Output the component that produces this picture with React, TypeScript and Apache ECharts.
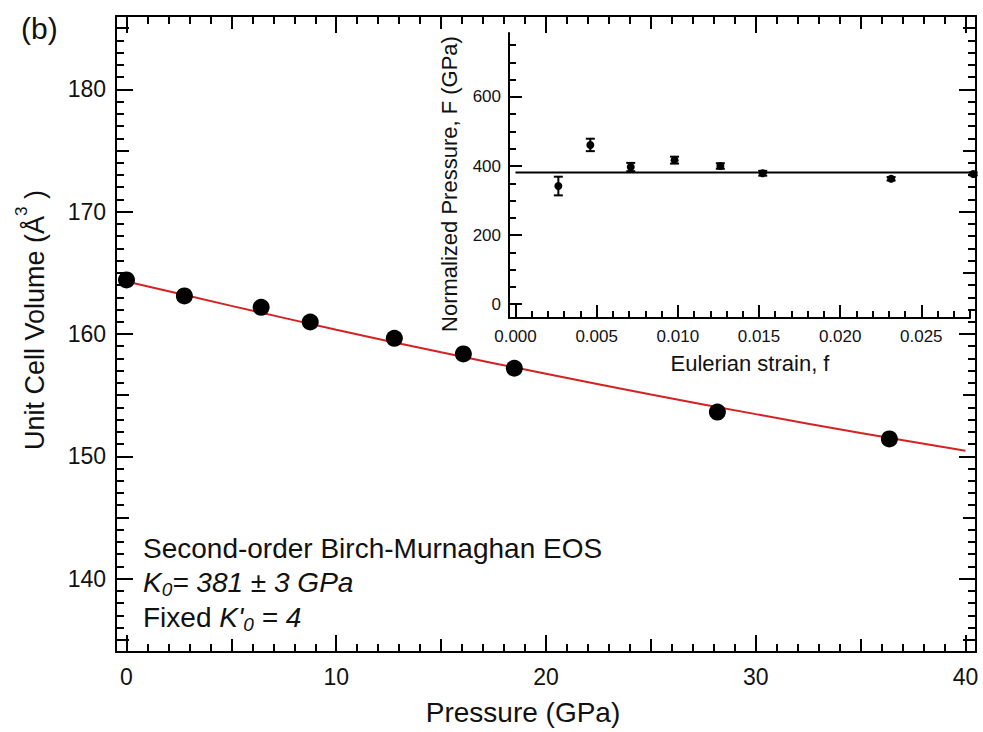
import React, { useEffect, useRef } from 'react';
import * as echarts from 'echarts';

// ---- Main panel data: unit cell volume vs pressure ----
const pressure = [0, 2.76, 6.42, 8.76, 12.77, 16.06, 18.49, 28.17, 36.37];
const volume = [164.42, 163.11, 162.18, 160.98, 159.65, 158.37, 157.2, 153.62, 151.42];
// Second-order Birch-Murnaghan fit curve
const fitPressure = [0, 5, 10, 15, 20, 25, 30, 35, 40];
const fitVolume = [164.3, 162.3, 160.35, 158.5, 156.75, 155.05, 153.45, 151.9, 150.45];

// ---- Inset data: normalized pressure vs Eulerian strain ----
const strain = [0.00264, 0.00461, 0.0071, 0.0098, 0.01262, 0.01523, 0.02314, 0.0282];
const normPressure = [342, 461, 397, 417, 400, 379, 363, 377];
const normPressureErr = [27, 18, 12, 10, 8, 7, 5, 4];
const K0Line = [381, 381];
const K0LineStrain = [0, 0.0283];

// ---- Tick values ----
const mainXMajor = [0, 10, 20, 30, 40];
const mainXMid = [5, 15, 25, 35];
const mainYMajor = [140, 150, 160, 170, 180];
const mainYMid = [135, 145, 155, 165, 175, 185];
const insetXMajor = [0, 0.005, 0.01, 0.015, 0.02, 0.025];
const insetYMajor = [0, 200, 400, 600];

const FONT = '"Liberation Sans", Arial, sans-serif';
const INK = '#111';

const range = (a: number, b: number, step: number) => {
  const out: number[] = [];
  for (let v = a; v <= b + 1e-9; v += step) out.push(Math.round(v * 10000) / 10000);
  return out;
};
const mainXMinor = range(0, 40, 1).filter((v) => v % 5 !== 0);
const mainYMinor = range(135, 185, 1).filter((v) => v % 5 !== 0);
const insetXMinor = range(0.001, 0.028, 0.001).filter((v) => Math.round(v * 1000) % 5 !== 0);
const insetYMinor = range(50, 750, 50).filter((v) => v % 200 !== 0);

function tickAxis(
  gridIndex: number,
  position: string,
  min: number,
  max: number,
  ticks: number[],
  len: number,
  showLine: boolean,
  label?: any
) {
  return {
    type: 'value',
    gridIndex,
    position,
    min,
    max,
    axisLine: { show: showLine, onZero: false, lineStyle: { color: '#000', width: 2 } },
    axisTick: {
      show: true,
      inside: true,
      length: len,
      customValues: ticks,
      lineStyle: { color: '#000', width: 2 },
    },
    axisLabel: label ? label : { show: false },
    splitLine: { show: false },
    minorTick: { show: false },
  };
}

type Seg = { text: string; italic?: boolean; size: number; dy?: number };

function composeLine(segs: Seg[], x0: number, yc: number) {
  const ctx = document.createElement('canvas').getContext('2d') as CanvasRenderingContext2D;
  let x = x0;
  const out: any[] = [];
  segs.forEach((s) => {
    const font = `${s.italic ? 'italic ' : ''}${s.size}px ${FONT}`;
    ctx.font = font;
    const w = ctx.measureText(s.text).width;
    out.push({
      type: 'text',
      x,
      y: yc + (s.dy || 0),
      style: { text: s.text, font, fill: INK, align: 'left', verticalAlign: 'middle' },
    });
    x += w;
  });
  return out;
}

export default function App() {
  const ref = useRef<HTMLDivElement>(null);
  useEffect(() => {
    document.body.style.margin = '0';
    if (!ref.current) return;
    const chart = echarts.init(ref.current, undefined, { renderer: 'svg' });

    const mainXLabel = {
      show: true,
      customValues: mainXMajor,
      color: INK,
      fontSize: 23,
      fontFamily: FONT,
      margin: 13,
    };
    const mainYLabel = {
      show: true,
      customValues: mainYMajor,
      color: INK,
      fontSize: 23,
      fontFamily: FONT,
      margin: 10,
    };
    const insetXLabel = {
      show: true,
      customValues: insetXMajor,
      color: INK,
      fontSize: 17,
      fontFamily: FONT,
      margin: 10,
      formatter: (v: number) => v.toFixed(3),
    };
    const insetYLabel = {
      show: true,
      customValues: insetYMajor,
      color: INK,
      fontSize: 17,
      fontFamily: FONT,
      margin: 8,
    };

    const annotation = [
      ...composeLine([{ text: 'Second-order Birch-Murnaghan EOS', size: 28 }], 143, 548),
      ...composeLine(
        [
          { text: 'K', italic: true, size: 28 },
          { text: '0', italic: true, size: 19, dy: 7 },
          { text: '= 381 ± 3 GPa', italic: true, size: 28 },
        ],
        143,
        582
      ),
      ...composeLine(
        [
          { text: 'Fixed ', size: 28 },
          { text: "K'", italic: true, size: 28 },
          { text: '0', italic: true, size: 19, dy: 7 },
          { text: ' = 4', italic: true, size: 28 },
        ],
        143,
        617
      ),
    ];

    const option: any = {
      animation: false,
      backgroundColor: '#fff',
      grid: [
        { left: 116, top: 16, width: 860, height: 636, outerBoundsMode: 'none', containLabel: false },
        { left: 509, top: 33, width: 461, height: 285, outerBoundsMode: 'none', containLabel: false },
      ],
      xAxis: [
        tickAxis(0, 'bottom', -0.5, 40.5, mainXMajor, 17, true, mainXLabel),
        tickAxis(0, 'bottom', -0.5, 40.5, mainXMid, 13, false),
        tickAxis(0, 'bottom', -0.5, 40.5, mainXMinor, 8, false),
        tickAxis(0, 'top', -0.5, 40.5, mainXMajor, 17, true),
        tickAxis(0, 'top', -0.5, 40.5, mainXMid, 13, false),
        tickAxis(0, 'top', -0.5, 40.5, mainXMinor, 8, false),
        tickAxis(1, 'bottom', -0.0004, 0.028, insetXMajor, 13, true, insetXLabel),
        tickAxis(1, 'bottom', -0.0004, 0.028, insetXMinor, 7, false),
      ],
      yAxis: [
        tickAxis(0, 'left', 134, 186, mainYMajor, 17, true, mainYLabel),
        tickAxis(0, 'left', 134, 186, mainYMid, 13, false),
        tickAxis(0, 'left', 134, 186, mainYMinor, 8, false),
        tickAxis(0, 'right', 134, 186, mainYMajor, 17, true),
        tickAxis(0, 'right', 134, 186, mainYMid, 13, false),
        tickAxis(0, 'right', 134, 186, mainYMinor, 8, false),
        tickAxis(1, 'left', -40, 785, insetYMajor, 13, true, insetYLabel),
        tickAxis(1, 'left', -40, 785, insetYMinor, 7, false),
      ],
      series: [
        {
          type: 'line',
          xAxisIndex: 0,
          yAxisIndex: 0,
          data: fitPressure.map((p, i) => [p, fitVolume[i]]),
          showSymbol: false,
          smooth: 0.3,
          lineStyle: { color: '#d42222', width: 2 },
          z: 2,
        },
        {
          type: 'scatter',
          xAxisIndex: 0,
          yAxisIndex: 0,
          data: pressure.map((p, i) => [p, volume[i]]),
          symbol: 'circle',
          symbolSize: 17,
          itemStyle: { color: '#000', opacity: 1 },
          z: 3,
        },
        {
          type: 'line',
          xAxisIndex: 6,
          yAxisIndex: 6,
          data: K0LineStrain.map((s, i) => [s, K0Line[i]]),
          showSymbol: false,
          clip: false,
          lineStyle: { color: '#000', width: 2 },
          z: 2,
        },
        {
          type: 'custom',
          xAxisIndex: 6,
          yAxisIndex: 6,
          data: strain.map((s, i) => [s, normPressure[i], normPressureErr[i]]),
          encode: { x: 0, y: 1 },
          clip: false,
          renderItem: (params: any, api: any) => {
            const x = api.value(0);
            const y = api.value(1);
            const e = api.value(2);
            const top = api.coord([x, y + e]);
            const bot = api.coord([x, y - e]);
            const cw = 4.5;
            const st = { stroke: '#000', lineWidth: 2 };
            return {
              type: 'group',
              children: [
                { type: 'line', shape: { x1: top[0], y1: top[1], x2: bot[0], y2: bot[1] }, style: st },
                { type: 'line', shape: { x1: top[0] - cw, y1: top[1], x2: top[0] + cw, y2: top[1] }, style: st },
                { type: 'line', shape: { x1: bot[0] - cw, y1: bot[1], x2: bot[0] + cw, y2: bot[1] }, style: st },
              ],
            };
          },
          z: 3,
        },
        {
          type: 'scatter',
          xAxisIndex: 6,
          yAxisIndex: 6,
          data: strain.map((s, i) => [s, normPressure[i]]),
          symbol: 'circle',
          symbolSize: 8,
          clip: false,
          itemStyle: { color: '#000', opacity: 1 },
          z: 4,
        },
      ],
      graphic: [
        {
          type: 'text',
          x: 21,
          y: 28,
          style: { text: '(b)', font: `30px ${FONT}`, fill: INK, align: 'left', verticalAlign: 'middle' },
        },
        {
          type: 'text',
          x: 35,
          y: 320,
          rotation: Math.PI / 2,
          style: {
            text: '{m|Unit Cell Volume (Å}{s|3}{m| )}',
            align: 'center',
            verticalAlign: 'middle',
            fill: INK,
            rich: {
              m: { fontSize: 27, fontFamily: FONT, lineHeight: 44, verticalAlign: 'middle', fill: INK },
              s: { fontSize: 17, fontFamily: FONT, lineHeight: 16, verticalAlign: 'top', fill: INK },
            },
          },
        },
        {
          type: 'text',
          x: 523,
          y: 712,
          style: { text: 'Pressure (GPa)', font: `28px ${FONT}`, fill: INK, align: 'center', verticalAlign: 'middle' },
        },
        {
          type: 'text',
          x: 449,
          y: 184,
          rotation: Math.PI / 2,
          style: {
            text: 'Normalized Pressure, F (GPa)',
            font: `22px ${FONT}`,
            fill: INK,
            align: 'center',
            verticalAlign: 'middle',
          },
        },
        {
          type: 'text',
          x: 750,
          y: 363,
          style: { text: 'Eulerian strain, f', font: `22px ${FONT}`, fill: INK, align: 'center', verticalAlign: 'middle' },
        },
        ...annotation,
      ],
    };
    chart.setOption(option);
    return () => {
      chart.dispose();
    };
  }, []);
  return <div ref={ref} style={{ width: 983, height: 732 }} />;
}
